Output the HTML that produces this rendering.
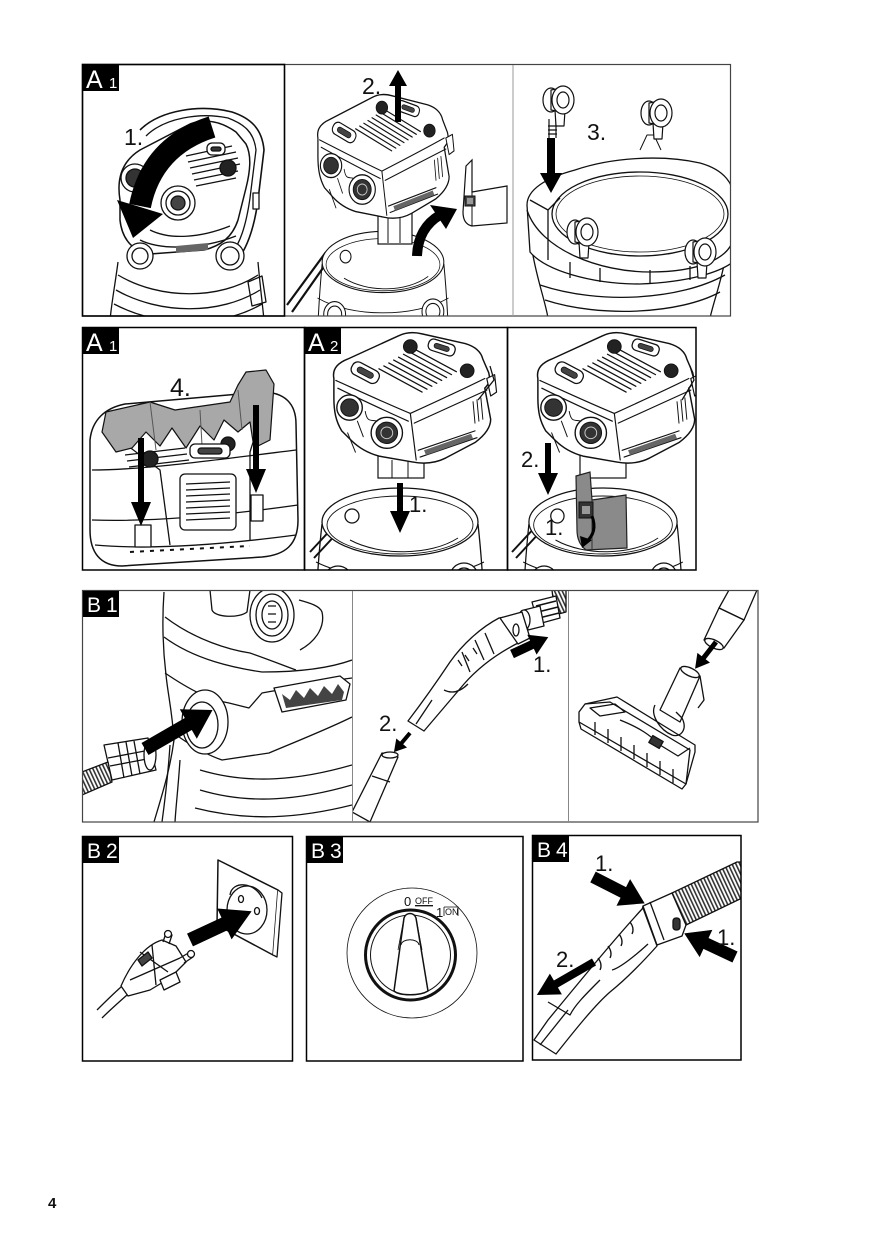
<!DOCTYPE html>
<html><head><meta charset="utf-8"><style>
html,body{margin:0;padding:0;background:#fff;}
svg{display:block;}
text{font-family:"Liberation Sans",Arial,sans-serif;}
</style></head><body>
<svg width="874" height="1240" viewBox="0 0 874 1240" xmlns="http://www.w3.org/2000/svg">
<defs>
 <clipPath id="c1a"><rect x="83" y="65" width="201" height="251"/></clipPath>
 <clipPath id="c1b"><rect x="285" y="65" width="228" height="251"/></clipPath>
 <clipPath id="c1c"><rect x="514" y="65" width="217" height="251"/></clipPath>
 <clipPath id="c2a"><rect x="83" y="328" width="221" height="242"/></clipPath>
 <clipPath id="c2b"><rect x="305" y="328" width="202" height="242"/></clipPath>
 <clipPath id="c2c"><rect x="508" y="328" width="188" height="242"/></clipPath>
 <clipPath id="c3a"><rect x="83" y="591" width="269" height="231"/></clipPath>
 <clipPath id="c3b"><rect x="353" y="591" width="215" height="231"/></clipPath>
 <clipPath id="c3c"><rect x="569" y="591" width="189" height="231"/></clipPath>
 <clipPath id="c4c"><rect x="533" y="836" width="208" height="224"/></clipPath>
 <pattern id="rib" width="3.5" height="3.5" patternUnits="userSpaceOnUse" patternTransform="rotate(-25)">
  <rect width="3.5" height="3.5" fill="#fff"/><rect width="1.6" height="3.5" fill="#333"/>
 </pattern>

 <g id="head" stroke="#111" stroke-linejoin="round" stroke-linecap="round">
  <path fill="#fff" stroke-width="1.5" d="M6,50 C4,40 10,34 20,30 L72,6 C80,2 88,2 96,4 L140,14 C150,17 156,22 158,30 L164,44 C166,52 164,56 160,60 L166,92 C166,102 158,110 150,116 L120,132 C108,138 96,138 86,136 L52,130 C38,126 30,120 24,114 L14,104 C8,94 6,84 6,70 Z"/>
  <path fill="none" stroke-width="1.2" d="M8,52 C30,62 60,76 84,86 C110,74 140,60 160,50 M84,86 L90,134 M10,60 C30,70 60,84 82,94 M88,96 C110,86 140,72 162,62"/>
  <path fill="none" stroke-width="1.3" d="M52,40 L96,64 M57,37 L101,61 M62,34 L106,58 M67,31 L111,55 M72,28 L116,52 M77,25 L121,49 M82,22 L126,46 M87,19 L131,43"/>
  <rect x="-15" y="-7" width="30" height="14" rx="6" transform="translate(38,44) rotate(28)" fill="#fff" stroke-width="1.3"/>
  <rect x="-9" y="-3" width="18" height="6" rx="3" transform="translate(38,44) rotate(28)" fill="#444" stroke-width="0.8"/>
  <rect x="-14" y="-6" width="28" height="12" rx="5" transform="translate(116,18) rotate(18)" fill="#fff" stroke-width="1.3"/>
  <rect x="-8" y="-2.5" width="16" height="5" rx="2.5" transform="translate(116,18) rotate(18)" fill="#444" stroke-width="0.8"/>
  <circle cx="84" cy="17" r="7" fill="#222"/>
  <circle cx="142" cy="42" r="7" fill="#222"/>
  <circle cx="22" cy="80" r="13" fill="#fff" stroke-width="1.4"/>
  <circle cx="22" cy="80" r="9" fill="#333"/>
  <circle cx="60" cy="106" r="16" fill="#fff" stroke-width="1.4"/>
  <circle cx="60" cy="106" r="11" fill="#333"/>
  <circle cx="60" cy="106" r="6" fill="none" stroke="#ccc" stroke-width="1"/>
  <path fill="none" stroke-width="1" d="M38,84 C40,96 44,92 50,94 M30,94 L36,110 M20,106 L28,126"/>
  <path fill="none" stroke-width="1.2" d="M92,124 L150,104 M94,131 L152,111"/>
  <path fill="#666" stroke="none" d="M98,124 L146,107 L148,112 L100,129 Z"/>
  <path fill="none" stroke-width="1" d="M148,74 L150,96 M152,72 L154,94 M156,70 L158,92"/>
  <path fill="#fff" stroke-width="1.2" d="M162,50 L170,46 L172,64 L166,68 Z"/>
 </g>

 <g id="bucket" fill="none" stroke="#111" stroke-width="1.3">
  <path d="M-78,2 C-80,20 -82,40 -84,80 M78,2 C80,20 82,40 84,80"/>
  <path d="M-84,40 C-40,62 40,62 84,40" stroke-width="1"/>
  <ellipse cx="0" cy="0" rx="78" ry="34" fill="#fff"/>
  <ellipse cx="0" cy="3" rx="73" ry="29" stroke-width="0.9"/>
  <path d="M-50,18 C-20,34 30,34 58,16" stroke-width="1"/>
  <circle cx="-62" cy="58" r="14" fill="#fff"/><circle cx="-62" cy="58" r="9"/>
  <circle cx="64" cy="55" r="14" fill="#fff"/><circle cx="64" cy="55" r="9"/>
  <circle cx="-48" cy="-6" r="7" fill="#fff"/>
 </g>

 <g id="caster" fill="#fff" stroke="#111" stroke-width="1.2">
  <path d="M-5,10 L-4,26 L4,26 L5,10 Z"/>
  <ellipse cx="-9" cy="0" rx="8" ry="12"/>
  <path d="M-9,-10 L2,-12 L2,12 L-9,10 Z"/>
  <ellipse cx="3" cy="0" rx="11" ry="14"/>
  <ellipse cx="3" cy="0" rx="6" ry="8"/>
 </g>
</defs>

<rect width="874" height="1240" fill="#fff"/>

<!-- ================= ROW 1 ================= -->
<!-- panel 1 -->
<g clip-path="url(#c1a)" fill="none" stroke="#111" stroke-width="1.3" stroke-linejoin="round">
 <path d="M118,262 C115,285 112,300 110,320 M258,262 C260,285 262,300 264,320"/>
 <path d="M118,275 C160,300 220,300 258,275 M116,290 C160,315 220,315 260,290 M114,304 C160,328 220,328 262,304"/>
 <path d="M248,282 L262,276 L266,302 L252,306 Z"/>
 <path d="M140,130 C160,110 200,104 232,112 C250,118 262,128 264,150 L258,200 C254,230 246,250 236,262" stroke-width="1.6"/>
 <path d="M146,136 C164,118 200,112 228,118 C244,124 254,132 256,150 L250,198 C246,226 240,244 230,256"/>
 <path fill="#fff" stroke-width="1.5" d="M120,200 C116,176 124,160 140,150 L190,124 C206,118 222,122 236,132 L246,144 C252,156 250,172 246,188 L238,220 C232,238 220,246 204,250 L150,254 C134,252 122,240 120,220 Z"/>
 <path d="M186,156 L232,146 M188,162 L236,152 M190,168 L238,158 M192,174 L240,164 M194,180 L238,171 M196,186 L236,178"/>
 <rect x="207" y="143" width="18" height="12" rx="5" fill="#fff"/>
 <rect x="211" y="147" width="10" height="4" rx="2" fill="#333"/>
 <circle cx="228" cy="168" r="8" fill="#222"/>
 <circle cx="135" cy="178" r="14" fill="#fff"/><circle cx="135" cy="178" r="9" fill="#333"/>
 <circle cx="178" cy="203" r="17" fill="#fff"/><circle cx="178" cy="203" r="12"/><circle cx="178" cy="203" r="7" fill="#444"/>
 <path d="M150,230 C170,240 200,238 230,226 M140,240 C160,250 200,250 236,236"/>
 <circle cx="140" cy="256" r="13" fill="#fff"/><circle cx="140" cy="256" r="8"/>
 <circle cx="230" cy="256" r="14" fill="#fff"/><circle cx="230" cy="256" r="9"/>
 <path fill="#666" stroke="none" d="M176,246 L208,243 L208,250 L176,253 Z"/>
 <rect x="253" y="193" width="6" height="16" fill="#fff"/>
</g>
<path d="M212,127 Q152,146 140,206" fill="none" stroke="#000" stroke-width="22"/>
<polygon points="117,200 163,214 133,238" fill="#000"/>
<text x="124" y="145" font-size="23" fill="#111">1.</text>

<!-- panel 2 -->
<g clip-path="url(#c1b)">
 <path d="M287,305 L326,252 M292,312 L330,258" stroke="#111" stroke-width="2.2" fill="none"/>
 <use href="#bucket" transform="translate(383,262) scale(0.78,0.9)"/>
 <rect x="378" y="200" width="34" height="44" fill="#fff" stroke="#111" stroke-width="1.2"/>
 <path d="M388,215 L388,243 M400,215 L400,243" stroke="#111" stroke-width="1"/>
 <use href="#head" transform="translate(313,92) scale(0.82,0.92)"/>
 <path d="M417,256 Q418,228 440,215" fill="none" stroke="#000" stroke-width="10"/>
 <polygon points="430,205 457,209 446,229" fill="#000"/>
 <path fill="#fff" stroke="#111" stroke-width="1.2" d="M466,166 L472,160 L472,192 L507,186 L507,223 L472,226 Q463,224 463,212 Z"/>
 <path d="M472,192 L472,226" stroke="#111" stroke-width="1"/>
 <rect x="465" y="196" width="10" height="10" fill="#444" stroke="#111"/>
 <rect x="467" y="198" width="6" height="6" fill="#999"/>
</g>
<path transform="translate(398,122) rotate(-90)" d="M0,-3H36V-9L52,0L36,9V3H0Z" fill="#000"/>
<text x="362" y="94" font-size="23" fill="#111">2.</text>

<!-- panel 3 -->
<g clip-path="url(#c1c)" fill="none" stroke="#111" stroke-width="1.3" stroke-linejoin="round">
 <path d="M532,250 C537,280 545,300 548,318 M727,250 C722,280 714,300 710,318"/>
 <path d="M540,285 C600,305 680,300 725,275 M545,300 C600,318 680,314 720,292"/>
 <path fill="#fff" d="M527,205 C527,190 545,178 575,170 C610,158 660,154 700,163 C725,170 735,185 733,200 L733,262 C720,272 690,282 640,284 C590,284 545,270 530,252 Z"/>
 <path d="M527,210 C540,250 600,272 650,272 C700,272 728,258 733,240"/>
 <ellipse cx="640" cy="214" rx="88" ry="42" fill="#fff"/>
 <ellipse cx="640" cy="214" rx="84" ry="38" stroke-width="0.8"/>
 <path d="M530,200 L548,210 L548,260 M548,210 L560,198"/>
 <path d="M570,262 L570,278 M600,268 L600,282 M650,270 L650,284 M690,266 L690,280"/>
 <path d="M640,150 L647,135 L654,135 L661,150" stroke-width="1"/>
 <path d="M549,119 L549,138 M556,119 L556,138 M548,126 L557,126 M548,130 L557,130 M548,134 L557,134" stroke-width="1.2"/>
 <use href="#caster" transform="translate(560,100)"/>
 <use href="#caster" transform="translate(658,113)"/>
 <use href="#caster" transform="translate(584,232)"/>
 <use href="#caster" transform="translate(702,252)"/>
</g>
<path transform="translate(551,138) rotate(90)" d="M0,-4H35V-11L55,0L35,11V4H0Z" fill="#000"/>
<text x="587" y="140" font-size="23" fill="#111">3.</text>

<!-- row 1 frames -->
<rect x="82.5" y="64.5" width="648" height="251.5" fill="none" stroke="#444" stroke-width="1.2"/>
<line x1="513" y1="65" x2="513" y2="316" stroke="#999" stroke-width="1"/>
<rect x="82.5" y="64.5" width="202" height="251.5" fill="none" stroke="#000" stroke-width="1.6"/>
<rect x="83" y="65" width="36" height="26" fill="#000"/>
<text x="86" y="88" font-size="25" fill="#fff">A</text>
<text x="109" y="88" font-size="15" fill="#fff">1</text>

<!-- ================= ROW 2 ================= -->
<!-- A1 panel -->
<g clip-path="url(#c2a)" fill="none" stroke="#111" stroke-width="1.3" stroke-linejoin="round">
 <path fill="#fff" stroke-width="1.5" d="M90,440 C92,420 105,408 125,404 L262,392 C285,392 296,404 296,424 L298,520 C298,545 285,555 262,557 L122,566 C100,566 90,552 90,530 Z"/>
 <path d="M92,470 C140,470 200,462 296,450 M92,520 C150,522 220,516 298,505 M95,545 C150,550 220,545 296,535"/>
 <path d="M120,440 L160,470 L170,545 M260,420 L250,452 L250,540"/>
 <path fill="#a8a8a8" stroke-width="1.2" d="M102,432 L106,412 L150,402 L175,410 L230,402 L238,385 L246,372 L266,370 L274,384 L270,440 L254,448 L250,422 L238,432 L224,420 L214,440 L200,426 L186,448 L172,428 L160,446 L146,432 L132,448 L116,452 Z"/>
 <path d="M150,402 L156,450 M200,410 L202,445 M238,390 L242,430" stroke="#555" stroke-width="1"/>
 <path d="M125,455 L185,448 M127,461 L187,454 M129,467 L189,460"/>
 <circle cx="150" cy="459" r="8" fill="#222"/>
 <circle cx="228" cy="444" r="7" fill="#222"/>
 <rect x="190" y="444" width="40" height="14" rx="5" fill="#fff"/>
 <rect x="198" y="448" width="24" height="6" rx="3" fill="#444"/>
 <rect x="180" y="474" width="56" height="56" rx="5" fill="#fff"/>
 <path d="M186,484 L230,482 M186,490 L230,488 M186,496 L230,494 M186,502 L230,500 M186,508 L230,506 M186,514 L230,512 M186,520 L230,518"/>
 <path d="M130,552 L250,546" stroke-dasharray="4 6" stroke-width="2"/>
 <rect x="135" y="525" width="16" height="22" fill="#fff"/>
 <rect x="251" y="495" width="12" height="26" fill="#fff"/>
</g>
<path transform="translate(141,438) rotate(90)" d="M0,-3H64V-10L88,0L64,10V3H0Z" fill="#000"/>
<path transform="translate(256,405) rotate(90)" d="M0,-3H64V-10L88,0L64,10V3H0Z" fill="#000"/>
<text x="170" y="396" font-size="25" fill="#111">4.</text>

<!-- A2 panel -->
<g clip-path="url(#c2b)">
 <path d="M310,552 L336,524 M314,558 L340,530" stroke="#111" stroke-width="2" fill="none"/>
 <use href="#bucket" transform="translate(400,522)"/>
 <rect x="378" y="448" width="46" height="30" fill="#fff" stroke="#111" stroke-width="1.2"/>
 <path d="M392,460 L392,478 M408,460 L408,478" stroke="#111" stroke-width="1"/>
 <use href="#head" transform="translate(328,330) scale(0.98,0.97)"/>
 <path d="M478,400 L494,380 L490,366" fill="none" stroke="#111" stroke-width="1.3"/>
</g>
<path transform="translate(400,483) rotate(90)" d="M0,-3H28V-10L50,0L28,10V3H0Z" fill="#000"/>
<text x="409" y="512" font-size="22" fill="#111">1.</text>

<!-- A2 third panel -->
<g clip-path="url(#c2c)">
 <path d="M512,552 L538,524 M516,558 L542,530" stroke="#111" stroke-width="2" fill="none"/>
 <use href="#bucket" transform="translate(603,522) scale(0.95,1)"/>
 <rect x="580" y="448" width="46" height="30" fill="#fff" stroke="#111" stroke-width="1.2"/>
 <use href="#head" transform="translate(532,330) scale(0.98,0.97)"/>
 <path d="M682,400 L694,380 L690,366" fill="none" stroke="#111" stroke-width="1.3"/>
 <path fill="#8a8a8a" stroke="#222" stroke-width="1.2" d="M576,476 L590,472 L592,500 L626,495 L627,548 L586,550 Q577,543 577,530 Z"/>
 <path d="M592,500 L592,550" stroke="#333" stroke-width="1"/>
 <rect x="579" y="502" width="14" height="16" fill="#333" stroke="#111"/>
 <rect x="582" y="506" width="8" height="8" fill="#999"/>
 <path d="M592,516 Q598,532 586,542" fill="none" stroke="#000" stroke-width="3"/>
 <polygon points="580,536 592,540 582,548" fill="#000"/>
</g>
<path transform="translate(548,443) rotate(90)" d="M0,-3H30V-10L52,0L30,10V3H0Z" fill="#000"/>
<text x="521" y="467" font-size="22" fill="#111">2.</text>
<text x="545" y="535" font-size="22" fill="#111">1.</text>

<!-- row 2 frames -->
<rect x="82.5" y="327.5" width="222" height="242.5" fill="none" stroke="#000" stroke-width="1.5"/>
<rect x="304.5" y="327.5" width="203" height="242.5" fill="none" stroke="#000" stroke-width="1.5"/>
<rect x="507.5" y="327.5" width="188.5" height="242.5" fill="none" stroke="#000" stroke-width="1.5"/>
<rect x="83" y="328" width="36" height="26" fill="#000"/>
<text x="86" y="351" font-size="25" fill="#fff">A</text>
<text x="109" y="351" font-size="15" fill="#fff">1</text>
<rect x="305" y="328" width="36" height="26" fill="#000"/>
<text x="308" y="351" font-size="25" fill="#fff">A</text>
<text x="330" y="351" font-size="15" fill="#fff">2</text>

<!-- ================= ROW 3 ================= -->
<g clip-path="url(#c3a)" fill="none" stroke="#111" stroke-width="1.3" stroke-linejoin="round">
 <path d="M164,592 C162,620 163,650 166,675 C168,695 172,710 174,740 C170,770 162,795 154,822"/>
 <path d="M170,745 C168,775 165,800 162,822 M180,760 C178,790 176,805 175,822"/>
 <path d="M165,617 C195,640 230,650 250,653 C270,660 285,666 296,670"/>
 <path d="M164,637 C195,660 235,668 262,672 C300,672 330,668 352,660"/>
 <path d="M165,673 C190,690 210,700 229,703 L249,708 L262,693 C290,688 320,682 352,678"/>
 <path d="M179,737 C195,748 210,756 222,760 L269,753 C300,740 330,728 352,717"/>
 <path d="M200,770 C250,785 300,780 352,765 M200,790 C250,805 300,800 352,785 M195,808 C250,822 300,818 352,805"/>
 <path d="M210,590 L212,610 C215,618 240,618 247,612 L250,590"/>
 <ellipse cx="272" cy="615" rx="22" ry="27" fill="#fff"/>
 <ellipse cx="272" cy="615" rx="16" ry="21"/>
 <ellipse cx="272" cy="615" rx="10" ry="14"/>
 <path d="M268,606 L276,606 M268,614 L276,614 M268,622 L276,622"/>
 <path d="M299,600 C310,603 320,606 322,612 C325,625 318,640 300,650"/>
 <path fill="#fff" d="M274,688 L340,676 L350,684 L346,700 L282,712 Z"/>
 <path fill="#444" stroke="none" d="M282,694 L290,700 L296,690 L304,698 L310,688 L318,696 L324,686 L332,694 L338,684 L344,692 L342,700 L286,708 Z"/>
 <ellipse cx="205" cy="722" rx="23" ry="32" fill="#fff"/>
 <ellipse cx="202" cy="725" rx="16" ry="23"/>
 <path d="M104,745 L148,738 L156,770 L112,780 Z" fill="#fff"/>
 <path d="M118,743 L124,778 M126,742 L132,776 M134,741 L140,774 M108,758 L150,750 M110,766 L152,758"/>
 <ellipse cx="150" cy="755" rx="6" ry="15" fill="#fff"/>
 <path d="M82,772 L108,762 L112,782 L82,795 Z" fill="url(#rib)" stroke="#111"/>
</g>
<path transform="translate(145,749) rotate(-30)" d="M0,-7H50V-17L78,0L50,17V7H0Z" fill="#000"/>

<g clip-path="url(#c3b)" fill="none" stroke="#111" stroke-width="1.3" stroke-linejoin="round">
 <path d="M552,590 L566,590 L566,612 L555,615 Z" fill="url(#rib)"/>
 <path d="M532,602 L556,596 L560,618 L538,624 Z" fill="#fff"/>
 <path d="M536,606 L556,601 M538,612 L558,607 M539,618 L559,613" stroke-width="1.6"/>
 <path d="M524,610 L540,606 L544,626 L528,630 Z" fill="#fff"/>
 <ellipse cx="524" cy="620" rx="6" ry="10" fill="#fff"/>
 <path d="M499,618 C480,628 462,645 450,662 C438,680 424,700 408,721 L424,731 C440,712 452,698 464,684 C478,668 496,654 520,642 C524,634 522,624 512,616 Z" fill="#fff"/>
 <path d="M500,618 L522,612 L530,638 L518,644 Z" fill="#fff"/>
 <ellipse cx="516" cy="630" rx="3" ry="6"/>
 <path d="M485,633 L494,654 M475,640 L484,660 M462,652 L470,672"/>
 <path d="M458,660 L462,666 M465,655 L469,661 M473,648 L477,654"/>
 <path d="M444,690 C452,694 460,692 468,684 M432,700 L416,724"/>
 <path d="M382,753 L398,757 L370,822 L352,812 Z" fill="#fff"/>
 <ellipse cx="390" cy="755" rx="8" ry="3" fill="#fff"/>
 <path d="M372,776 L390,782"/>
</g>
<path transform="translate(512,654) rotate(-25)" d="M0,-4.5H22V-11L40,0L22,11V4.5H0Z" fill="#000"/>
<path transform="translate(410,733) rotate(130)" d="M0,-2H13V-7L25,0L13,7V2H0Z" fill="#000"/>
<text x="533" y="672" font-size="22" fill="#111">1.</text>
<text x="379" y="731" font-size="22" fill="#111">2.</text>

<g clip-path="url(#c3c)" fill="none" stroke="#111" stroke-width="1.3" stroke-linejoin="round">
 <path d="M729,590 L719,608 L744,620 L757,590" fill="#fff"/>
 <path d="M719,608 L704,640 L724,648 L744,620 Z" fill="#fff"/>
 <ellipse cx="714" cy="644" rx="10" ry="4" fill="#fff" transform="rotate(25 714 644)"/>
 <path d="M680,668 L660,710 L680,722 L700,676 Z" fill="#fff"/>
 <ellipse cx="690" cy="672" rx="10" ry="4" fill="#fff" transform="rotate(25 690 672)"/>
 <path d="M700,676 L704,700 L698,708"/>
 <path d="M579,712 L585,704 L617,697 L695,745 L695,752 L686,784 L579,722 Z" fill="#fff"/>
 <path d="M585,704 L610,702 L690,750 L686,784"/>
 <path d="M590,708 L615,704 L625,712 L600,716 Z"/>
 <path d="M579,722 L581,729 L682,789 L686,784"/>
 <path d="M595,722 L595,735 M608,729 L608,743 M621,737 L621,751 M634,745 L634,759 M647,753 L647,767 M660,761 L660,775 M673,769 L673,783"/>
 <path d="M620,720 C640,728 650,735 660,745 L678,756 L690,748"/>
 <path d="M655,705 C650,715 660,730 672,735 C680,738 688,730 682,718 L676,712"/>
 <rect x="650" y="738" width="12" height="8" fill="#333" transform="rotate(30 656 742)"/>
</g>
<path transform="translate(716,642) rotate(128)" d="M0,-2.5H20V-8L34,0L20,8V2.5H0Z" fill="#000"/>

<rect x="82.5" y="590.5" width="675.5" height="231.5" fill="none" stroke="#444" stroke-width="1.2"/>
<line x1="352.5" y1="591" x2="352.5" y2="822" stroke="#888" stroke-width="1"/>
<line x1="568.5" y1="591" x2="568.5" y2="822" stroke="#888" stroke-width="1"/>
<rect x="83" y="591" width="36" height="26" fill="#000"/>
<text x="87" y="612" font-size="21" fill="#fff">B</text>
<text x="106" y="612" font-size="21" fill="#fff">1</text>

<!-- ================= ROW 4 ================= -->
<!-- B2 -->
<g fill="none" stroke="#111" stroke-width="1.3" stroke-linejoin="round">
 <path d="M218,860 L278,890 L273,955 L217,925 Z" fill="#fff" stroke-width="1.5"/>
 <path d="M278,890 L282,893 L277,957 L273,955" fill="#fff"/>
 <ellipse cx="247" cy="910" rx="20" ry="24" fill="#fff"/>
 <path d="M230,895 C232,880 255,882 262,898"/>
 <ellipse cx="241" cy="899" rx="2.5" ry="3.5"/>
 <ellipse cx="257" cy="911" rx="2.5" ry="3.5"/>
 <path d="M121,986 C130,965 145,945 162,940 L176,946 L186,962 L170,978 L150,990 L128,996 Z" fill="#fff"/>
 <path d="M130,980 L180,958 M140,952 L168,972 M152,945 L156,985"/>
 <path d="M138,960 L148,952 L152,958 L142,966 Z" fill="#444"/>
 <path d="M160,980 L176,972 L180,982 L164,990 Z" fill="#fff"/>
 <path d="M163,942 L166,933 L172,935 L169,944"/>
 <circle cx="168" cy="934" r="3.5" fill="#fff"/>
 <path d="M180,958 L190,952 L193,957 L184,963"/>
 <circle cx="191" cy="954" r="3.5" fill="#fff"/>
 <path d="M121,987 C112,995 104,1003 97,1010 M127,995 C118,1003 110,1010 102,1018"/>
</g>
<path transform="translate(190,940) rotate(-25)" d="M0,-7H38V-17L68,0L38,17V7H0Z" fill="#000"/>
<rect x="82.5" y="836.5" width="210" height="224.5" fill="none" stroke="#000" stroke-width="1.5"/>
<rect x="83" y="837" width="36" height="26" fill="#000"/>
<text x="87" y="858" font-size="21" fill="#fff">B</text>
<text x="106" y="858" font-size="21" fill="#fff">2</text>

<!-- B3 -->
<g fill="none" stroke="#111" stroke-linejoin="round">
 <circle cx="412" cy="953" r="65" stroke-width="0.8"/>
 <circle cx="410.5" cy="955" r="45" stroke-width="3"/>
 <circle cx="410.5" cy="955" r="40" stroke-width="1"/>
 <path d="M404,918 C406,912 414,912 416,918 L428,991 C420,996 400,996 394,991 Z" fill="#fff" stroke-width="1.5"/>
 <path d="M401,945 C402,938 418,938 419,945" stroke-width="1"/>
 <path d="M404,918 L398,950 M416,918 L422,950" stroke-width="0.8"/>
</g>
<text x="404" y="906" font-size="13" fill="#111">0</text>
<text x="415" y="904" font-size="9" fill="#111" text-decoration="underline">OFF</text>
<line x1="415" y1="906" x2="433" y2="906" stroke="#111" stroke-width="0.8"/>
<text x="436" y="917" font-size="13" fill="#111">1</text>
<text x="445" y="915" font-size="9" fill="#111">ON</text>
<path d="M444,907 L458,907 L458,916 M444,907 L444,916" fill="none" stroke="#111" stroke-width="0.8"/>
<rect x="306.5" y="836.5" width="216.5" height="224.5" fill="none" stroke="#000" stroke-width="1.5"/>
<rect x="307" y="837" width="36" height="26" fill="#000"/>
<text x="311" y="858" font-size="21" fill="#fff">B</text>
<text x="330" y="858" font-size="21" fill="#fff">3</text>

<!-- B4 -->
<g clip-path="url(#c4c)" fill="none" stroke="#111" stroke-width="1.3" stroke-linejoin="round">
 <path d="M672,893 L737,862 L742,862 L742,898 L686,925 Z" fill="url(#rib)"/>
 <path d="M643,906 L672,893 L686,925 L682,936 L657,945 Z" fill="#fff"/>
 <path d="M650,902 L664,940 M643,906 C640,916 646,938 657,945"/>
 <rect x="673" y="918" width="7" height="12" rx="3" fill="#333"/>
 <path d="M643,908 C618,935 585,975 548,1020 L534,1040 L556,1054 C575,1030 595,1005 610,992 C625,980 640,965 657,946 Z" fill="#fff"/>
 <path d="M600,980 C585,995 575,1005 570,1015 L548,1002 M612,970 C620,968 636,955 648,944"/>
 <path d="M630,922 C633,926 634,930 632,934 M619,934 C622,938 623,942 621,946 M608,946 C611,950 612,954 610,958 M598,958 C601,962 602,966 600,970"/>
 <path d="M568,1010 L540,1045"/>
</g>
<path transform="translate(593,877) rotate(27)" d="M0,-6H34V-15L58,0L34,15V6H0Z" fill="#000"/>
<path transform="translate(735,957) rotate(-155)" d="M0,-6H32V-15L56,0L32,15V6H0Z" fill="#000"/>
<path transform="translate(594,962) rotate(150)" d="M0,-4H44V-12L66,0L44,12V4H0Z" fill="#000"/>
<text x="595" y="871" font-size="22" fill="#111">1.</text>
<text x="717" y="945" font-size="22" fill="#111">1.</text>
<text x="556" y="967" font-size="22" fill="#111">2.</text>
<rect x="532.5" y="835.5" width="208.5" height="224.5" fill="none" stroke="#000" stroke-width="1.5"/>
<rect x="533" y="836" width="36" height="26" fill="#000"/>
<text x="537" y="857" font-size="21" fill="#fff">B</text>
<text x="556" y="857" font-size="21" fill="#fff">4</text>

<!-- page number -->
<text x="48" y="1208" font-size="15" font-weight="bold" fill="#111">4</text>
</svg>
</body></html>
